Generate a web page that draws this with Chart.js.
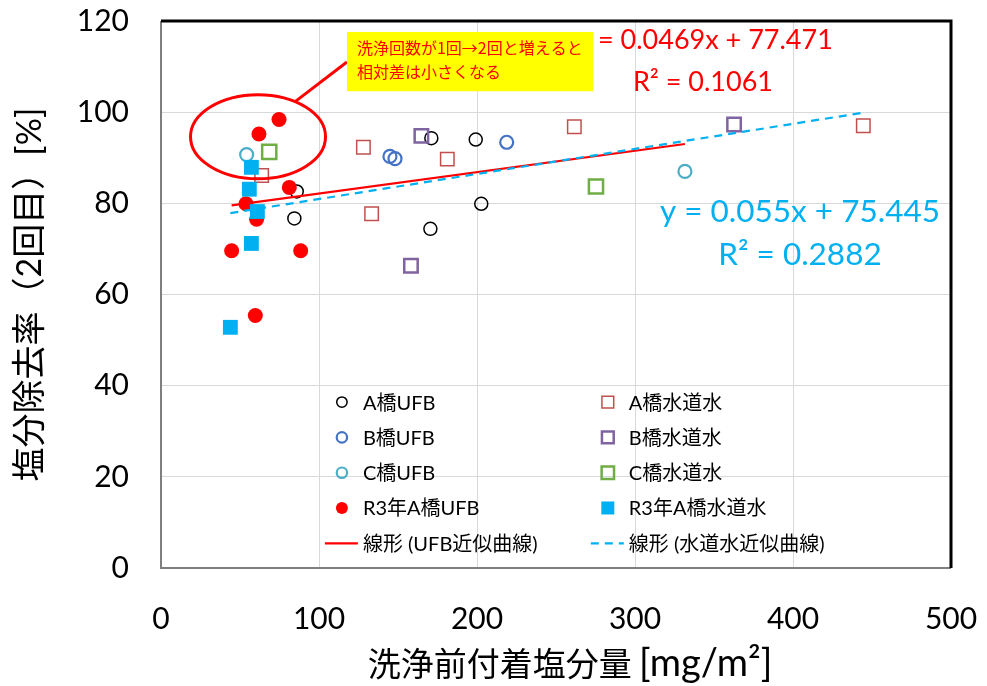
<!DOCTYPE html>
<html>
<head>
<meta charset="utf-8">
<script src="https://cdn.jsdelivr.net/npm/chart.js@4.4.1/dist/chart.umd.min.js"></script>
<style>
html, body { margin: 0; padding: 0; background: #fff; }
#wrap { width: 987px; height: 686px; }
</style>
</head>
<body>
<div id="wrap"><canvas id="chart" width="987" height="686"></canvas></div>
<script>
// Series values (x: 洗浄前付着塩分量, y: 塩分除去率)
const aUfbX = [85.9, 84.4, 171.1, 199.2, 202.7, 170.5];
const aUfbY = [82.6, 76.7, 94.3, 94.0, 79.9, 74.4];
const bUfbX = [144.9, 148.1, 218.8];
const bUfbY = [90.3, 89.8, 93.4];
const cUfbX = [54.2, 331.6];
const cUfbY = [90.7, 87.0];
const aTapX = [63.7, 128.1, 181.2, 133.3, 261.6, 444.5];
const aTapY = [86.1, 92.3, 89.7, 77.7, 96.8, 97.0];
const bTapX = [164.8, 158.2, 362.7];
const bTapY = [94.8, 66.3, 97.3];
const cTapX = [68.5, 275.3];
const cTapY = [91.3, 83.7];
const r3UfbX = [74.7, 62.0, 81.2, 53.8, 60.5, 44.7, 88.4, 59.7];
const r3UfbY = [98.4, 95.2, 83.5, 79.9, 76.5, 69.6, 69.6, 55.4];
const r3TapX = [57.2, 55.9, 61.0, 57.2, 43.9];
const r3TapY = [87.9, 83.1, 78.2, 71.2, 52.8];

// Trend lines (from the equations shown on the chart)
const ufbFit = [0.0469, 77.471];
const tapFit = [0.055, 75.445];
const ufbFitRange = [44.7, 331.6];
const tapFitRange = [43.9, 444.5];

const xTicks = [0, 100, 200, 300, 400, 500];
const yTicks = [0, 20, 40, 60, 80, 100, 120];

const FONT = 'Lato, "Noto Sans CJK JP", sans-serif';
const JP = '"Noto Sans CJK JP", sans-serif';

function pts(xs, ys) { return xs.map((x, i) => ({ x: x, y: ys[i] })); }
function fitPts(fit, range) { return range.map(x => ({ x: x, y: fit[0] * x + fit[1] })); }

function marker(label, xs, ys, style, color, fill, radius, bw) {
  return {
    type: 'scatter', label: label, data: pts(xs, ys),
    pointStyle: style, pointRadius: radius, pointHoverRadius: radius,
    pointBorderColor: color, pointBackgroundColor: fill, pointBorderWidth: bw,
    borderColor: color, backgroundColor: fill, showLine: false
  };
}

const datasets = [
  marker('A橋UFB', aUfbX, aUfbY, 'circle', '#000000', 'rgba(0,0,0,0)', 6.5, 1.5),
  marker('B橋UFB', bUfbX, bUfbY, 'circle', '#4472C4', 'rgba(0,0,0,0)', 6.5, 2.2),
  marker('C橋UFB', cUfbX, cUfbY, 'circle', '#4BACC6', 'rgba(0,0,0,0)', 6.5, 2.2),
  marker('A橋水道水', aTapX, aTapY, 'rect', '#C0504D', 'rgba(0,0,0,0)', 9.5, 1.5),
  marker('B橋水道水', bTapX, bTapY, 'rect', '#8064A2', 'rgba(0,0,0,0)', 9.5, 2.5),
  marker('C橋水道水', cTapX, cTapY, 'rect', '#70AD47', 'rgba(0,0,0,0)', 10, 2.5),
  marker('R3年A橋UFB', r3UfbX, r3UfbY, 'circle', '#FF0000', '#FF0000', 7.5, 0),
  marker('R3年A橋水道水', r3TapX, r3TapY, 'rect', '#00B0F0', '#00B0F0', 10.5, 0),
  {
    type: 'line', label: '線形 (UFB近似曲線)', data: fitPts(ufbFit, ufbFitRange),
    borderColor: '#FF0000', borderWidth: 2.2, pointRadius: 0, fill: false, tension: 0
  },
  {
    type: 'line', label: '線形 (水道水近似曲線)', data: fitPts(tapFit, tapFitRange),
    borderColor: '#00B0F0', borderWidth: 2.2, borderDash: [8, 6], pointRadius: 0, fill: false, tension: 0
  }
];
// later series on top, like the original
datasets.forEach((d, i) => { d.order = datasets.length - i; });

// legend layout: two columns, five rows
const legendCols = [[0, 1, 2, 6, 8], [3, 4, 5, 7, 9]];

const legendPlugin = {
  id: 'gridLegend',
  afterDraw(chart) {
    const ctx = chart.ctx;
    const xs = chart.scales.x, ys = chart.scales.y;
    const colX = [xs.getPixelForValue(114.5), xs.getPixelForValue(282.8)];
    const rowY0 = ys.getPixelForValue(36.4);
    const rowH = 35.3;
    ctx.save();
    ctx.font = '20px ' + FONT;
    ctx.textBaseline = 'middle';
    legendCols.forEach((col, c) => {
      col.forEach((idx, r) => {
        const ds = chart.data.datasets[idx];
        const cx = colX[c], cy = rowY0 + r * rowH;
        ctx.lineWidth = ds.type === 'line' ? ds.borderWidth : ds.pointBorderWidth;
        ctx.strokeStyle = ds.type === 'line' ? ds.borderColor : ds.pointBorderColor;
        ctx.fillStyle = ds.pointBackgroundColor || 'rgba(0,0,0,0)';
        if (ds.type === 'line') {
          ctx.setLineDash(ds.borderDash || []);
          ctx.beginPath();
          ctx.moveTo(cx - 17, cy); ctx.lineTo(cx + 16, cy);
          ctx.stroke();
          ctx.setLineDash([]);
        } else if (ds.pointStyle === 'circle') {
          const r0 = ds.pointRadius * 0.8;
          ctx.beginPath();
          ctx.arc(cx, cy, r0, 0, Math.PI * 2);
          ctx.fill();
          if (ds.pointBorderWidth > 0) ctx.stroke();
        } else {
          const s = ds.pointRadius * 0.62;
          ctx.beginPath();
          ctx.rect(cx - s, cy - s, s * 2, s * 2);
          ctx.fill();
          if (ds.pointBorderWidth > 0) ctx.stroke();
        }
        ctx.fillStyle = '#000';
        ctx.fillText(ds.label, cx + 21, cy + 1);
      });
    });
    ctx.restore();
  }
};

const notesPlugin = {
  id: 'notes',
  afterDraw(chart) {
    const ctx = chart.ctx;
    const xs = chart.scales.x, ys = chart.scales.y;
    const X = v => xs.getPixelForValue(v), Y = v => ys.getPixelForValue(v);
    ctx.save();

    // equation labels
    ctx.textAlign = 'center';
    ctx.textBaseline = 'middle';
    ctx.font = '27px ' + FONT;
    ctx.fillStyle = '#FF0000';
    ctx.fillText('y = 0.0469x + 77.471', X(344.3), Y(115.8));
    ctx.fillText('R² = 0.1061', X(343), Y(106.6));
    ctx.font = '31.5px ' + FONT;
    ctx.fillStyle = '#00B0F0';
    ctx.fillText('y = 0.055x + 75.445', X(404.4), Y(78.1));
    ctx.fillText('R² = 0.2882', X(404.4), Y(68.7));

    // circled cluster and callout
    ctx.strokeStyle = '#FF0000';
    ctx.lineWidth = 3;
    ctx.beginPath();
    ctx.ellipse(X(61.4), Y(94.6), 67.5, 42, 0, 0, Math.PI * 2);
    ctx.stroke();
    ctx.beginPath();
    ctx.moveTo(X(84.9), Y(102.3));
    ctx.lineTo(X(117.7), Y(111.0));
    ctx.stroke();

    const bx = X(117.7), by = Y(117.6), bw = X(273.4) - bx, bh = Y(104.6) - by;
    ctx.fillStyle = '#FFFF00';
    ctx.fillRect(bx, by, bw, bh);
    ctx.fillStyle = '#FF0000';
    ctx.textAlign = 'left';
    ctx.font = '16px ' + JP;
    ctx.fillText('洗浄回数が1回→2回と増えると', bx + 10, by + 16);
    ctx.fillText('相対差は小さくなる', bx + 10, by + 40);

    // plot frame
    const a = chart.chartArea;
    ctx.lineWidth = 2;
    ctx.strokeStyle = '#7f7f7f';
    ctx.beginPath();
    ctx.moveTo(a.left, a.top); ctx.lineTo(a.left, a.bottom); ctx.lineTo(a.right, a.bottom);
    ctx.stroke();
    ctx.lineWidth = 3;
    ctx.strokeStyle = '#000';
    ctx.beginPath();
    ctx.moveTo(a.left, a.top); ctx.lineTo(a.right, a.top); ctx.lineTo(a.right, a.bottom);
    ctx.stroke();

    // x axis title: Japanese part and unit part in two runs
    const jpPart = '洗浄前付着塩分量 ', unitPart = '[mg/m²]';
    ctx.fillStyle = '#000';
    ctx.textBaseline = 'alphabetic';
    ctx.font = '33px ' + JP;
    const w1 = ctx.measureText(jpPart).width;
    ctx.font = '38px ' + FONT;
    const w2 = ctx.measureText(unitPart).width;
    const x0 = 570 - (w1 + w2) / 2;
    ctx.font = '33px ' + JP;
    ctx.fillText(jpPart, x0, 676);
    ctx.font = '38px ' + FONT;
    ctx.fillText(unitPart, x0 + w1, 676);
    ctx.restore();
  }
};

new Chart(document.getElementById('chart'), {
  type: 'scatter',
  data: { datasets: datasets },
  options: {
    responsive: false,
    animation: false,
    devicePixelRatio: 1,
    layout: { autoPadding: false, padding: { left: 0, top: 21, right: 36, bottom: 0 } },
    plugins: { legend: { display: false }, tooltip: { enabled: false } },
    scales: {
      x: {
        type: 'linear', min: 0, max: 500,
        afterBuildTicks: s => { s.ticks = xTicks.map(v => ({ value: v })); },
        afterFit: s => { s.height = 118; s.paddingLeft = 0; s.paddingRight = 0; },
        grid: { color: '#d9d9d9', lineWidth: 1, drawTicks: false },
        border: { display: false },
        ticks: { color: '#000', font: { family: FONT, size: 30 }, padding: 33, maxRotation: 0 },
        title: { display: false }
      },
      y: {
        type: 'linear', min: 0, max: 120,
        afterBuildTicks: s => { s.ticks = yTicks.map(v => ({ value: v })); },
        afterFit: s => { s.width = 161; s.paddingTop = 0; s.paddingBottom = 0; },
        grid: { color: '#d9d9d9', lineWidth: 1, drawTicks: false },
        border: { display: false },
        ticks: { color: '#000', font: { family: FONT, size: 30 }, padding: 32 },
        title: { display: true, text: '塩分除去率（2回目）[%]', color: '#000',
                 font: { family: FONT, size: 34, lineHeight: 1 }, padding: { top: 13, bottom: 0 } }
      }
    }
  },
  plugins: [legendPlugin, notesPlugin]
});
</script>
</body>
</html>
